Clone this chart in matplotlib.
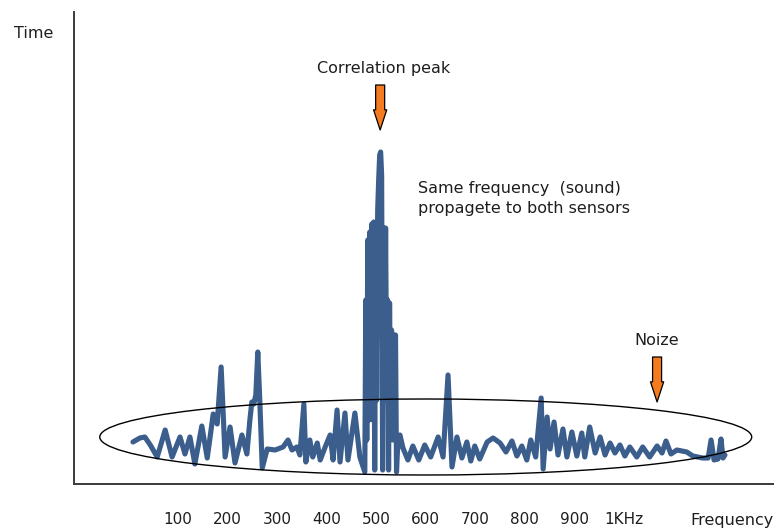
import matplotlib
matplotlib.use("Agg")
import matplotlib.pyplot as plt
from matplotlib.patches import Ellipse

# cross-correlation trace: frequency (Hz) vs. time amplitude
freq = [9, 23, 33, 44, 58, 74, 88, 104, 114, 124, 134, 148, 159, 171, 179, 187,
        195, 205, 215, 229, 239, 245, 249, 253, 257, 261, 265, 270, 280, 296,
        312, 322, 330, 340, 346, 354, 358, 366, 372, 381, 387, 397, 407, 413,
        421, 427, 437, 443, 457, 467, 477,
        479, 481, 483, 485, 487, 489, 491, 493, 495, 497, 499, 501, 503, 505,
        507, 509, 511, 513, 515, 517, 519, 521, 523, 525, 527, 529, 531, 533,
        535, 537, 539, 541, 543, 548,
        554, 564, 574, 586, 598, 610, 625, 635, 645, 653, 663, 673, 683, 691,
        699, 709, 724, 736, 750, 762, 774, 784, 794, 804, 812, 822, 833, 837,
        845, 851, 859, 867, 877, 885, 895, 905, 915, 921, 931, 942, 952, 962,
        972, 982, 992, 1002, 1012, 1026, 1038, 1052, 1067, 1077, 1085, 1095,
        1107, 1127, 1139, 1159, 1170, 1176, 1182, 1190, 1196, 1200, 1204]
amp = [42, 46, 47, 39, 27, 54, 27, 47, 30, 47, 20, 58, 26, 70, 60, 117,
       27, 57, 21, 49, 30, 64, 82, 80, 89, 132, 84, 16, 35, 34,
       37, 44, 34, 37, 29, 80, 22, 44, 27, 41, 24, 37, 49, 24,
       74, 22, 71, 24, 71, 27, 12,
       184, 44, 244, 64, 252, 104, 260, 64, 262, 14, 259, 84, 274, 304,
       329, 332, 309, 14, 256, 84, 256, 104, 184, 14, 181, 64, 154, 44,
       149, 84, 149, 12, 34, 49,
       36, 24, 38, 24, 39, 27, 47, 27, 109, 17, 47, 26, 42, 23,
       38, 25, 42, 46, 41, 32, 43, 28, 38, 24, 44, 27, 86, 15,
       67, 35, 62, 29, 55, 27, 52, 28, 51, 27, 57, 31, 47, 29,
       41, 31, 39, 28, 37, 27, 37, 27, 38, 31, 43, 30,
       34, 32, 28, 26, 26, 44, 24, 25, 45, 26, 29]

tick_pos = [100, 200, 300, 400, 500, 600, 700, 800, 900, 1000]
tick_labels = ["100", "200", "300", "400", "500", "600", "700", "800", "900", "1KHz"]

W, H = 774, 529
txt = "#1e1e1e"


def px(x, y):
    return x / W, 1 - y / H


fig = plt.figure(figsize=(W / 100, H / 100), dpi=100)
ax = fig.add_axes([74 / W, 45 / H, 700 / W, 472 / H])

ax.plot(freq, amp, color="#3b5e8d", lw=3.7, solid_joinstyle="round",
        solid_capstyle="round", zorder=2)

# noise region
ax.add_patch(Ellipse((600, 47), width=1316, height=76, fill=False,
                     ec="black", lw=1.0, zorder=3))

arrow = dict(arrowstyle="simple,head_length=1.45,head_width=0.95,tail_width=0.65",
             fc="#f47b20", ec="black", lw=0.9, shrinkA=0, shrinkB=0)
ax.annotate("", xy=(508, 354), xytext=(508, 399), arrowprops=arrow)
ax.annotate("", xy=(1067, 82), xytext=(1067, 127), arrowprops=arrow)

ax.set_xlim(-110, 1303)
ax.set_ylim(0, 472)
for s in ["top", "right"]:
    ax.spines[s].set_visible(False)
for s in ["left", "bottom"]:
    ax.spines[s].set_color("#3a3a3a")
    ax.spines[s].set_linewidth(1.4)
ax.set_yticks([])
ax.set_xticks(tick_pos)
ax.set_xticklabels(tick_labels)
ax.tick_params(axis="x", length=0, pad=20, labelsize=11, labelcolor=txt)

fs = 11.5
fig.text(*px(14, 38), "Time", fontsize=fs, color=txt, va="baseline")
fig.text(*px(384, 73), "Correlation peak", fontsize=fs, color=txt,
         ha="center", va="baseline")
fig.text(*px(418, 193), "Same frequency  (sound)", fontsize=fs, color=txt,
         va="baseline")
fig.text(*px(418, 213), "propagete to both sensors", fontsize=fs, color=txt,
         va="baseline")
fig.text(*px(657, 345), "Noize", fontsize=fs, color=txt, ha="center",
         va="baseline")
fig.text(*px(690, 525), "Frequency", fontsize=fs, color=txt, va="baseline")

fig.savefig("out.png", dpi=100, facecolor="white")
